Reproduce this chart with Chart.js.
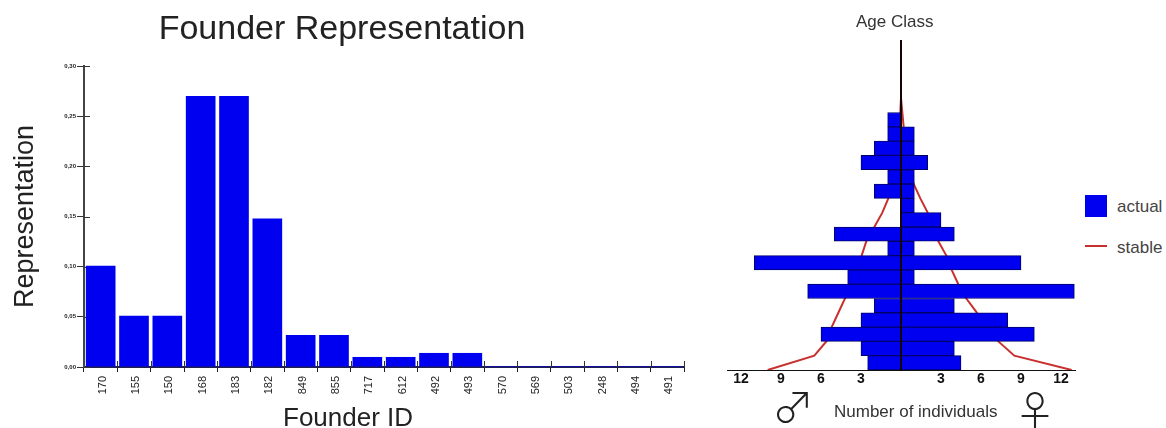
<!DOCTYPE html>
<html lang="en">
<head>
    <meta charset="UTF-8">
    <title>Founder Representation / Age Class</title>
    <script src="https://cdnjs.cloudflare.com/ajax/libs/Chart.js/4.4.1/chart.umd.js"></script>
    <style>
        html, body { margin: 0; padding: 0; background: #fff; overflow: hidden; }
        body { width: 1166px; height: 428px; position: relative; font-family: "Liberation Sans", Arial, sans-serif; }
        canvas { position: absolute; top: 0; }
        #founderChart { left: 0; }
        #ageChart { left: 710px; }
        .note { position: absolute; color: #333; white-space: nowrap; line-height: 1; }
        .symbol { position: absolute; color: #222; line-height: 1; font-family: "Noto Sans CJK JP", sans-serif; font-weight: 300; }
        .swatch { position: absolute; left: 1085px; width: 22px; }
    </style>
</head>
<body>
    <canvas id="founderChart" width="688" height="428"></canvas>
    <canvas id="ageChart" width="370" height="428"></canvas>

    <span class="note" style="left:283px;top:404px;font-size:26px;color:#222">Founder ID</span>
    <span class="note" style="left:856px;top:13px;font-size:17px">Age Class</span>

    <span class="symbol" style="left:772px;top:384px;font-size:42px">♂</span>
    <span class="note" style="left:834px;top:403px;font-size:17px">Number of individuals</span>
    <span class="symbol" style="left:1014px;top:388px;font-size:42px">♀</span>

    <div class="swatch" style="top:195px;height:22px;background:#0000f0"></div>
    <span class="note" style="left:1117px;top:198px;font-size:17px;color:#444">actual</span>
    <div class="swatch" style="top:245px;height:2px;background:#c8302e"></div>
    <span class="note" style="left:1117px;top:239px;font-size:17px;color:#444">stable</span>

    <script>
        // left chart
        const founderIds = ['170', '155', '150', '168', '183', '182', '849', '855', '717', '612', '492', '493', '570', '569', '503', '248', '494', '491'];
        const representation = [0.101, 0.051, 0.051, 0.27, 0.27, 0.148, 0.032, 0.032, 0.01, 0.01, 0.014, 0.014, 0.001, 0.001, 0.001, 0.001, 0.001, 0.001];

        // right chart, rows counted from the bottom
        const ageRows = [0.5, 1.5, 2.5, 3.5, 4.5, 5.5, 6.5, 7.5, 8.5, 9.5, 10.5, 11.5, 12.5, 13.5, 14.5, 15.5, 16.5, 17.5];
        const malesActual = [2.5, 3, 6, 3, 2, 7, 4, 11, 1, 5, 0, 0, 2, 1, 3, 2, 1, 1];
        const femalesActual = [4.5, 4, 10, 8, 4, 13, 1, 9, 1, 4, 3, 1, 1, 1, 2, 1, 1, 0];
        const stableRows = [0, 1, 2, 3, 4, 5, 6, 7, 8, 9, 10, 11, 12, 13, 14, 15, 16, 17, 18, 19, 23];
        const malesStable = [10, 6.5, 5.6, 5.2, 4.7, 4.2, 3.8, 3.4, 2.95, 2.6, 2, 1.4, 0.95, 0.6, 0.4, 0.3, 0.2, 0.1, 0.05, 0, 0];
        const femalesStable = [12.8, 8.5, 7.3, 6.3, 5.7, 4.9, 4.3, 3.8, 3.4, 2.8, 2.3, 2, 1.45, 0.95, 0.7, 0.5, 0.3, 0.2, 0.1, 0, 0];
        const individualTicks = [-12, -9, -6, -3, 3, 6, 9, 12];

        const blue = '#0000f0';
        const red = '#c8302e';
        const sans = '"Liberation Sans", Arial, sans-serif';

        // the founder chart ticks cross the axis, chart.js only draws them on the outside
        const crossTicks = {
            id: 'crossTicks',
            beforeDatasetsDraw(chart) {
                const ctx = chart.ctx;
                const xs = chart.scales.x;
                const ys = chart.scales.y;
                ctx.save();
                ctx.strokeStyle = '#333';
                ctx.lineWidth = 1;
                ctx.beginPath();
                ys.ticks.forEach(function (t) {
                    const y = Math.round(ys.getPixelForValue(t.value)) + 0.5;
                    ctx.moveTo(xs.left, y);
                    ctx.lineTo(xs.left + 6, y);
                });
                founderIds.forEach(function (id, i) {
                    const x = Math.round(xs.getPixelForValue(i) + xs.width / founderIds.length / 2) + 0.5;
                    ctx.moveTo(x, ys.bottom - 6);
                    ctx.lineTo(x, ys.bottom);
                });
                ctx.stroke();
                ctx.restore();
            }
        };

        new Chart('founderChart', {
            type: 'bar',
            plugins: [crossTicks],
            data: {
                labels: founderIds,
                datasets: [{
                    data: representation,
                    backgroundColor: blue,
                    barPercentage: 0.89,
                    categoryPercentage: 1
                }]
            },
            options: {
                responsive: false,
                animation: false,
                layout: { padding: { right: 4 } },
                plugins: {
                    legend: { display: false },
                    tooltip: { enabled: false },
                    title: {
                        display: true,
                        text: 'Founder Representation',
                        color: '#222',
                        font: { family: sans, size: 34, weight: 'normal', lineHeight: 1.2 },
                        padding: { top: 9, bottom: 16.2 }
                    }
                },
                scales: {
                    x: {
                        afterFit: function (scale) { scale.height = 61; },
                        grid: { drawOnChartArea: false, offset: true, tickLength: 5, color: '#222' },
                        border: { color: '#202050', width: 2 },
                        ticks: { minRotation: 90, maxRotation: 90, autoSkip: false, padding: 4, labelOffset: 2, color: '#222', font: { family: sans, size: 11 } }
                    },
                    y: {
                        min: 0,
                        max: 0.3,
                        afterFit: function (scale) { scale.width = 84; },
                        grid: { drawOnChartArea: false, tickLength: 7, color: '#333' },
                        border: { color: '#444', width: 2 },
                        ticks: {
                            stepSize: 0.05,
                            padding: 1,
                            color: '#222',
                            font: { family: sans, size: 6, weight: 'bold' },
                            callback: function (value) { return value.toFixed(2).replace('.', ','); }
                        },
                        title: {
                            display: true,
                            text: 'Representation',
                            color: '#222',
                            font: { family: sans, size: 27, lineHeight: 1.2 },
                            padding: { top: 9 }
                        }
                    }
                }
            }
        });

        function points(values, rows, sign) {
            return values.map(function (v, i) { return { x: sign * v, y: rows[i] }; });
        }

        function stableLine(values, sign) {
            return {
                type: 'line',
                order: 2,
                data: points(values, stableRows, sign),
                borderColor: red,
                borderWidth: 2,
                pointRadius: 0,
                tension: 0
            };
        }

        function actualBars(values, sign) {
            return {
                type: 'bar',
                order: 1,
                grouped: false,
                data: points(values, ageRows, sign),
                backgroundColor: blue,
                borderColor: '#00006a',
                borderWidth: 1,
                barPercentage: 1,
                categoryPercentage: 1
            };
        }

        new Chart('ageChart', {
            data: {
                datasets: [
                    stableLine(malesStable, -1),
                    stableLine(femalesStable, 1),
                    actualBars(malesActual, -1),
                    actualBars(femalesActual, 1)
                ]
            },
            options: {
                indexAxis: 'y',
                responsive: false,
                animation: false,
                layout: { padding: { left: 17, right: 5, top: 41 } },
                plugins: {
                    legend: { display: false },
                    tooltip: { enabled: false }
                },
                scales: {
                    x: {
                        type: 'linear',
                        min: -13.05,
                        max: 13.05,
                        offset: false,
                        afterFit: function (scale) { scale.height = 58; },
                        afterBuildTicks: function (scale) {
                            scale.ticks = individualTicks.map(function (v) { return { value: v }; });
                        },
                        grid: { display: false, drawTicks: false },
                        border: { color: '#111', width: 1 },
                        ticks: {
                            padding: 1,
                            color: '#111',
                            font: { family: sans, size: 14, weight: 'bold' },
                            callback: function (value) { return Math.abs(value); }
                        }
                    },
                    y: {
                        type: 'linear',
                        min: 0,
                        max: 23,
                        offset: false,
                        position: { x: 0 },
                        grid: { display: false },
                        border: { color: '#140404', width: 2, z: 1 },
                        ticks: { display: false }
                    }
                }
            }
        });
    </script>
</body>
</html>
